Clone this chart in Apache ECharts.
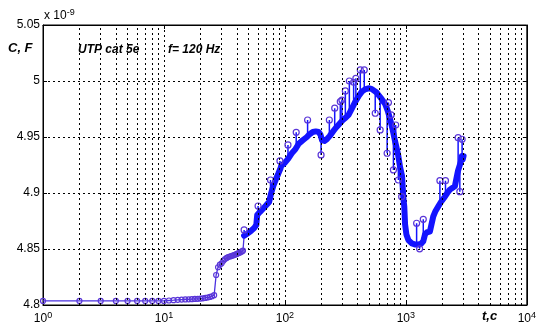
<!DOCTYPE html>
<html lang="en">
<head>
<meta charset="UTF-8">
<title>UTP cat 5e, C(t)</title>
<style>html,body{margin:0;padding:0;background:#fff}</style>
</head>
<body>
<div id="main" style="width:539px;height:332px"></div>
<script src="https://cdn.jsdelivr.net/npm/echarts@6/dist/echarts.min.js"></script>
<script>
// measured curve, t in s, C in units of 1e-9 F
var timeSec = [1,2,3,4,5,6,7,8,9,10,
  11,12,13,14,15,16,17,18,19,20,21,22,23,24,25,26,
  27,28,29,30,31,32,33,34,35,36,37,38,39,40,41,42,43,44,45,
  46,47,48,50,52,54,56,58,
  59,62,66,70,74,76,
  77,80,84,88,92,
  93,100,107,108,115,122,126,130,140,152,
  160,170,180,190,197,203,212,222,235,250,265,278,300,320,336,360,382,410,433,460,491,520,540,570,594,630,674,710,741,780,815,860,896,930,954,970,985,1010,1049,1120,1200,1267,1330,1393,1439,1500,1580,1631,1684,1760,1851,1950,2102,2200,2311,2420,2541,2620,2700,2793,2850,2900,2950,3000];
var capVal = [4.8036,4.8036,4.8036,4.8036,4.8036,4.8036,4.8036,4.8036,4.8036,4.8036,
  4.8040,4.8043,4.8046,4.8048,4.8050,4.8051,4.8052,4.8054,4.8055,4.8057,4.8060,4.8063,4.8067,4.8072,4.8078,4.8088,
  4.8268,4.8337,4.8360,4.8372,4.8396,4.8410,4.8420,4.8428,4.8433,4.8437,4.8441,4.8446,4.8450,4.8456,4.8461,4.8466,4.8471,4.8478,4.8485,
  4.8619,4.8625,4.8632,4.8645,4.8658,4.8672,4.8690,4.8715,
  4.8804,4.8830,4.8860,4.8890,4.8920,4.8935,
  4.9000,4.9060,4.9120,4.9170,4.9221,
  4.9240,4.9270,4.9310,4.9320,4.9360,4.9390,4.9400,4.9440,4.9470,4.9500,
  4.9525,4.9545,4.9550,4.9545,4.9520,4.9470,4.9465,4.9480,4.9510,4.9550,4.9585,4.9610,4.9650,4.9675,4.9697,4.9760,4.9815,4.9870,4.9905,4.9925,4.9935,4.9930,4.9920,4.9900,4.9875,4.9840,4.9795,4.9730,4.9660,4.9560,4.9460,4.9350,4.9230,4.9150,4.8950,4.8880,4.8720,4.8630,4.8580,4.8550,4.8540,4.8540,4.8545,4.8570,4.8630,4.8650,4.8655,4.8670,4.8790,4.8840,4.8880,4.8920,4.8967,4.9000,4.9030,4.9045,4.9060,4.9130,4.9200,4.9210,4.9280,4.9330,4.9300,4.9330];

// single outlier readings (drawn as a vertical jump from the curve)
var spikeTime = [46,60,76,91,106,124,154,199,233,258,287,296,316,341,370,386,420,453,558,613,700,718,755,789,824,867,923,1227,1300,1393,1912,2126,2704,2793,2917];
var spikeBase = [4.8619,4.8810,4.8935,4.9210,4.9315,4.9395,4.9505,4.9510,4.9505,4.9570,4.9625,4.9640,4.9670,4.9710,4.9790,4.9825,4.9885,4.9920,4.9905,4.9860,4.9750,4.9720,4.9625,4.9540,4.9440,4.9330,4.9160,4.8540,4.8542,4.8570,4.8900,4.8970,4.9200,4.9210,4.9320];
var spikePeak = [4.8670,4.8884,4.9116,4.9286,4.9429,4.9542,4.9652,4.9340,4.9652,4.9757,4.9815,4.9830,4.9911,5.0000,4.9989,5.0024,5.0099,5.0099,4.9712,4.9563,4.9355,4.9807,4.9697,4.9206,4.9607,4.9116,4.8967,4.8730,4.8502,4.8765,4.9110,4.9110,4.9494,4.9012,4.9480];

var minorGridX = [2,3,4,5,6,7,8,9,20,30,40,50,60,70,80,90,200,300,400,500,600,700,800,900,2000,3000,4000,5000,6000,7000,8000,9000];

var FONT = '"Liberation Sans", Arial, sans-serif';
var LINE_BLUE = '#1414ff';
var MARK_EDGE = '#5a36d8';
var BAND_FROM = 46;

var curveData = timeSec.map(function (t, i) { return [t, capVal[i]]; });
var bandData = curveData.filter(function (p) { return p[0] >= BAND_FROM; });
var spikeData = [];
spikeTime.forEach(function (t, i) {
  spikeData.push({ value: [t, spikeBase[i]], symbol: 'none' });
  spikeData.push([t, spikePeak[i]]);
  spikeData.push([t, '-']);
});

var dash = { type: [2, 3], color: '#000', width: 1 };

var myChart = echarts.init(document.getElementById('main'));
var option = {
  animation: false,
  grid: { left: 43, right: 10, top: 25, bottom: 27, show: true, borderColor: '#000', borderWidth: 1 },
  xAxis: [{
    type: 'log', logBase: 10, min: 1, max: 10000,
    axisLine: { lineStyle: { color: '#000' } },
    axisTick: { inside: true, length: 4, lineStyle: { color: '#000' } },
    splitLine: { show: true, lineStyle: dash },
    axisLabel: {
      color: '#000', fontFamily: FONT, fontSize: 12, margin: 6,
      formatter: function (v) { return '10{e|' + Math.round(Math.log10(v)) + '}'; },
      rich: { e: { fontSize: 9, fontFamily: FONT, color: '#000', verticalAlign: 'top', padding: [0, 0, 7, 0] } }
    }
  }, {
    type: 'log', logBase: 10, min: 1, max: 10000, position: 'top',
    axisLine: { lineStyle: { color: '#000' } },
    axisTick: { inside: true, length: 4, lineStyle: { color: '#000' } },
    axisLabel: { show: false }, splitLine: { show: false }
  }],
  yAxis: [{
    type: 'value', min: 4.8, max: 5.05, interval: 0.05,
    axisLine: { show: true, lineStyle: { color: '#000' } },
    axisTick: { show: true, inside: true, length: 4, lineStyle: { color: '#000' } },
    splitLine: { show: true, lineStyle: dash },
    axisLabel: {
      color: '#000', fontFamily: FONT, fontSize: 12, margin: 3,
      formatter: function (v) { return String(Math.round(v * 100) / 100); }
    }
  }, {
    type: 'value', min: 4.8, max: 5.05, interval: 0.05, position: 'right',
    axisLine: { show: true, lineStyle: { color: '#000' } },
    axisTick: { show: true, inside: true, length: 4, lineStyle: { color: '#000' } },
    axisLabel: { show: false }, splitLine: { show: false }
  }],
  graphic: [
    { type: 'text', left: 44, top: 8, style: { text: 'x 10{s|-9}', font: '12px ' + FONT, fill: '#000',
      rich: { s: { fontSize: 9, fontFamily: FONT, verticalAlign: 'top', padding: [0, 0, 6, 0] } } } },
    { type: 'text', left: 8, top: 42, style: { text: 'C, F', font: 'italic bold 13px ' + FONT, fill: '#000' } },
    { type: 'text', left: 78, top: 44, style: { text: 'UTP cat 5e', font: 'italic bold 12px ' + FONT, fill: '#000' } },
    { type: 'text', left: 168, top: 44, style: { text: 'f= 120 Hz', font: 'italic bold 12px ' + FONT, fill: '#000' } },
    { type: 'text', left: 482, top: 310, style: { text: 't,c', font: 'italic bold 13px ' + FONT, fill: '#000' } }
  ],
  series: [{
    name: 'C', type: 'line', z: 2,
    data: curveData,
    symbol: function (v) { return v[0] < BAND_FROM ? 'circle' : 'none'; },
    symbolSize: 5,
    itemStyle: { color: 'rgba(255,255,255,0)', borderColor: MARK_EDGE, borderWidth: 1.2 },
    lineStyle: { color: '#4a30e0', width: 1.3 },
    markLine: {
      silent: true, symbol: ['none', 'none'], label: { show: false },
      lineStyle: dash, animation: false,
      data: minorGridX.map(function (v) { return { xAxis: v }; })
    }
  }, {
    name: 'band', type: 'line', z: 3,
    data: bandData, showSymbol: false, symbol: 'none',
    lineStyle: { color: LINE_BLUE, width: 6, join: 'round', cap: 'round' }
  }, {
    name: 'spikes', type: 'line', z: 4,
    data: spikeData, connectNulls: false,
    symbol: 'circle', symbolSize: 6,
    itemStyle: { color: 'rgba(255,255,255,0)', borderColor: MARK_EDGE, borderWidth: 1.2 },
    lineStyle: { color: LINE_BLUE, width: 1.5 }
  }]
};
myChart.setOption(option);
</script>
</body>
</html>
